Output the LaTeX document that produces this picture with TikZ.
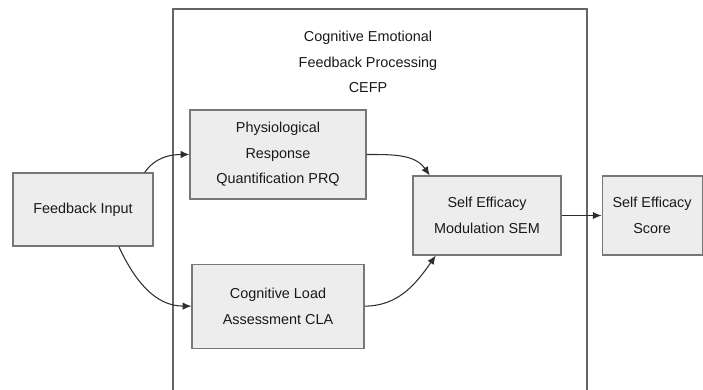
\documentclass[tikz,border=0pt]{standalone}
\usepackage{fontspec}
\setmainfont{Liberation Sans}
\usepackage{xcolor}
\usetikzlibrary{arrows.meta,positioning}

\definecolor{boxfill}{HTML}{EDEDED}
\definecolor{boxline}{HTML}{777777}
\definecolor{arrowline}{HTML}{2E2E2E}

\begin{document}
\begin{tikzpicture}[
    x=0.02cm, y=-0.02cm,
    box/.style={rectangle, draw=boxline, fill=boxfill, line width=0.65pt, align=center, inner sep=2pt,
        font=\fontsize{8.2}{14.5}\selectfont, text=black!90},
    frame/.style={rectangle, draw=boxline!85!black, line width=0.65pt, minimum width=8.28cm, minimum height=7.84cm},
    arrow/.style={->, >={Latex[length=5pt,width=4.2pt]}, draw=arrowline, line width=0.6pt}
]
\clip (0,0) rectangle (703,389);

% Outer frame - CEFP
\node[frame] (cefp) at (380,205) {};
\node[align=center, font=\fontsize{8.2}{14.5}\selectfont, text=black!90] (title) at (368,62) {Cognitive Emotional\\Feedback Processing\\CEFP};

% Input
\node[box, minimum width=2.8cm, minimum height=1.46cm] (feed) at (83,209.5) {Feedback Input};

% Inner modules
\node[box, minimum width=3.52cm, minimum height=1.78cm] (prq) at (278,154.5) {Physiological\\Response\\Quantification PRQ};
\node[box, minimum width=3.44cm, minimum height=1.68cm, below=1.28cm of prq] (cla) {Cognitive Load\\Assessment CLA};
\node[box, minimum width=2.96cm, minimum height=1.58cm] (sem) at (487,215.5) {Self Efficacy\\Modulation SEM};

% Output
\node[box, minimum width=2cm, minimum height=1.58cm, right=0.8cm of sem] (score) {Self Efficacy\\Score};

% Arrows
\draw[arrow] (feed.31) to[out=55, in=180] (prq.west);
\draw[arrow] (feed.-46) to[out=-65, in=180] (cla.west);
\draw[arrow] (prq.east) to[out=0, in=125] (sem.145);
\draw[arrow] (cla.east) to[out=0, in=-125] (sem.218);
\draw[arrow] (sem.east) -- (score.west);

\end{tikzpicture}
\end{document}
